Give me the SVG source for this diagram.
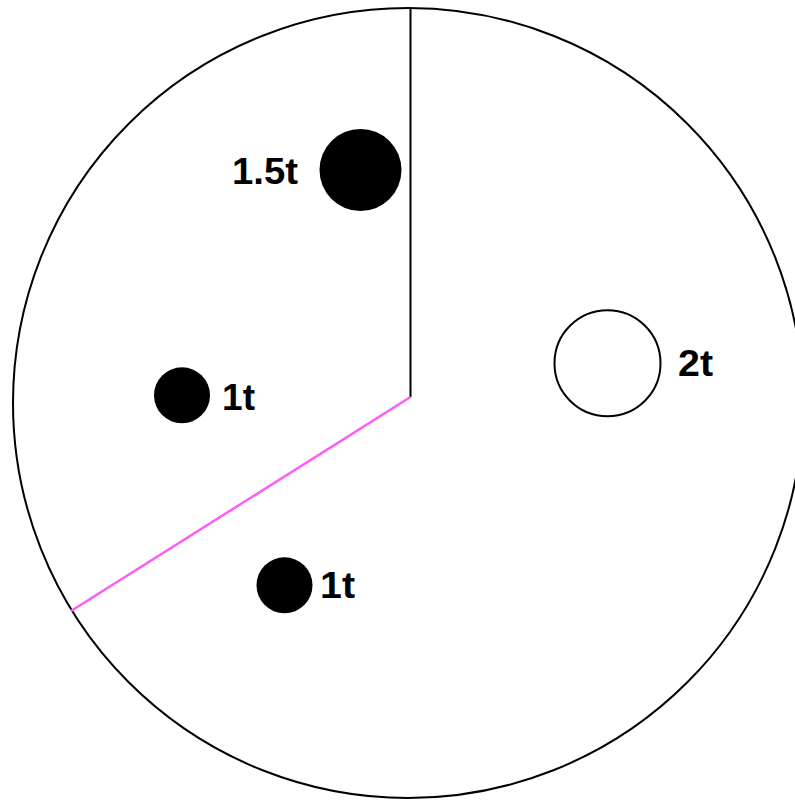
<svg xmlns="http://www.w3.org/2000/svg" width="795" height="801" viewBox="0 0 795 801">
<style>
.lbl{font-family:"Liberation Sans",Arial,sans-serif;font-weight:bold;font-size:36px;fill:#000}
.mass{fill:#000}
</style>
<rect width="795" height="801" fill="#fff"/>
<g id="disc"><circle cx="408" cy="403" r="395" fill="none" stroke="#000" stroke-width="2"/></g>
<g id="connectors">
<line x1="410.5" y1="8" x2="410.5" y2="397" stroke="#000" stroke-width="2"/>
<line x1="410.5" y1="397" x2="71" y2="611" stroke="#ff5cf5" stroke-width="2.5"/>
</g>
<g id="m15"><circle class="mass" cx="360.5" cy="170" r="41"/><text class="lbl" x="232" y="183.5" textLength="66" lengthAdjust="spacingAndGlyphs" style="font-size:37px">1.5t</text></g>
<g id="m1a"><circle class="mass" cx="182" cy="395.3" r="28"/><text class="lbl" x="222" y="409.5" textLength="33" lengthAdjust="spacingAndGlyphs">1t</text></g>
<g id="m1b"><circle class="mass" cx="284.5" cy="585.3" r="28"/><text class="lbl" x="320" y="597.5" textLength="35" lengthAdjust="spacingAndGlyphs">1t</text></g>
<g id="m2"><circle cx="607.5" cy="363.3" r="53" fill="#fff" stroke="#000" stroke-width="2"/><text class="lbl" x="678" y="375.5" textLength="35" lengthAdjust="spacingAndGlyphs" style="font-size:37px">2t</text></g>
</svg>
